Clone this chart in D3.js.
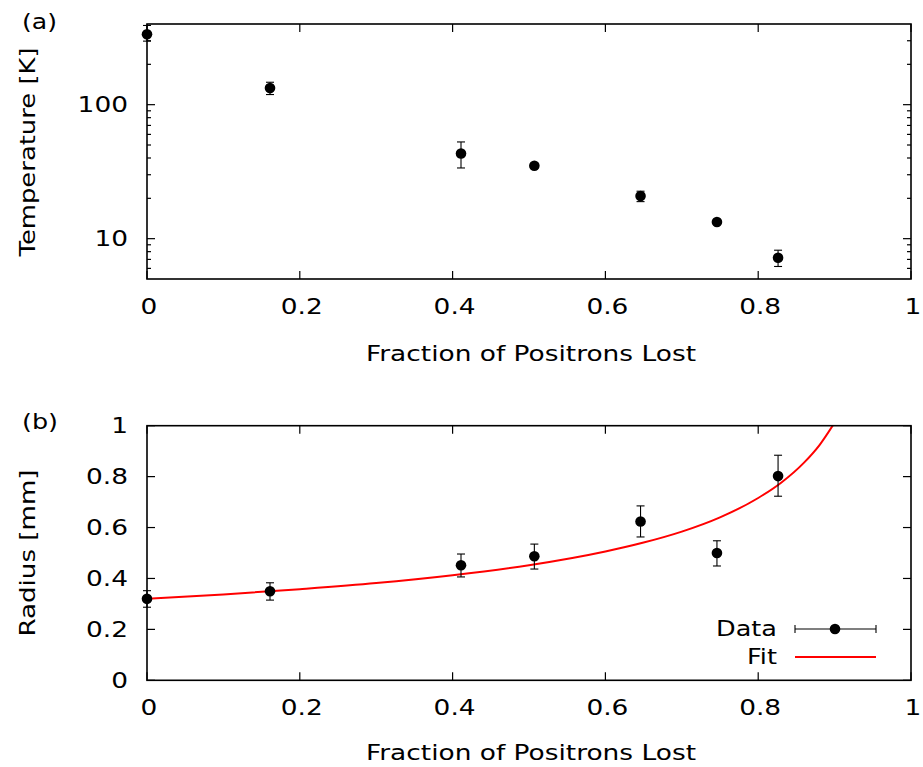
<!DOCTYPE html>
<html><head><meta charset="utf-8">
<script src="https://cdn.jsdelivr.net/npm/d3@7"></script>
<style>
body{margin:0;background:#fff;}
text{font-family:"DejaVu Sans",sans-serif;fill:#000;}
</style></head>
<body>
<svg id="c" width="923" height="767"></svg>
<script>
// ---- Data ----
const fraction = [0.0, 0.161, 0.411, 0.507, 0.646, 0.746, 0.826];
const temperature = [335, 133, 43.2, 35.0, 20.8, 13.3, 7.2];
const tempLow = [298, 119, 33.7, 33.6, 18.9, 12.8, 6.2];
const tempHigh = [390, 147, 52.7, 36.5, 22.6, 13.8, 8.2];
const radius = [0.32, 0.35, 0.452, 0.487, 0.624, 0.5, 0.802];
const radiusLow = [0.287, 0.315, 0.406, 0.437, 0.563, 0.449, 0.723];
const radiusHigh = [0.352, 0.383, 0.496, 0.535, 0.685, 0.548, 0.884];
const fitFraction = [0, 0.1, 0.2, 0.3, 0.4, 0.5, 0.6, 0.65, 0.7, 0.75, 0.8, 0.83, 0.86, 0.88, 0.9];
const fitRadius = [0.32, 0.337, 0.358, 0.382, 0.413, 0.452, 0.506, 0.541, 0.584, 0.64, 0.716, 0.776, 0.855, 0.923, 1.012];
const xTicks = [0, 0.2, 0.4, 0.6, 0.8, 1];
const xTickLabels = ["0", "0.2", "0.4", "0.6", "0.8", "1"];
const tMajor = [10, 100];
const tMajorLabels = ["10", "100"];
const tMinor = [6, 7, 8, 9, 20, 30, 40, 50, 60, 70, 80, 90, 200, 300];
const rTicks = [0, 0.2, 0.4, 0.6, 0.8, 1];
const rTickLabels = ["0", "0.2", "0.4", "0.6", "0.8", "1"];

const svg = d3.select("#c");
const L = 147, R = 911;
const x = d3.scaleLinear().domain([0, 1]).range([L, R]);
const yT = d3.scaleLog().domain([5, 400]).range([279, 24]);
const yR = d3.scaleLinear().domain([0, 1]).range([680.3, 425.7]);
const FS = 22;
const WIDEN = 1.2;

function widen(sel, len) {
  const n = sel.node();
  const w = len || n.getComputedTextLength() * WIDEN;
  sel.attr("textLength", w).attr("lengthAdjust", "spacingAndGlyphs");
  return sel;
}
function frame(y0, y1) {
  svg.append("rect").attr("x", L).attr("y", y0).attr("width", R - L).attr("height", y1 - y0)
    .attr("fill", "none").attr("stroke", "#000").attr("stroke-width", 1.6);
}
function xAxis(y0, y1, labelY, titleY) {
  const g = svg.append("g");
  xTicks.forEach((t, i) => {
    g.append("line").attr("x1", x(t)).attr("x2", x(t)).attr("y1", y1).attr("y2", y1 - 8).attr("stroke", "#000").attr("stroke-width", 1.2);
    g.append("line").attr("x1", x(t)).attr("x2", x(t)).attr("y1", y0).attr("y2", y0 + 8).attr("stroke", "#000").attr("stroke-width", 1.2);
    widen(g.append("text").attr("x", x(t) + 2).attr("y", labelY).attr("text-anchor", "middle")
      .attr("dominant-baseline", "central").attr("font-size", FS).text(xTickLabels[i]));
  });
  widen(g.append("text").attr("x", (L + R) / 2 + 2).attr("y", titleY).attr("text-anchor", "middle")
    .attr("dominant-baseline", "central").attr("font-size", FS).text("Fraction of Positrons Lost"), 330);
}
function yTick(g, yy, len) {
  g.append("line").attr("x1", L).attr("x2", L + len).attr("y1", yy).attr("y2", yy).attr("stroke", "#000").attr("stroke-width", 1.2);
  g.append("line").attr("x1", R).attr("x2", R - len).attr("y1", yy).attr("y2", yy).attr("stroke", "#000").attr("stroke-width", 1.2);
}
function errPoints(g, xs, ys, lo, hi, yscale) {
  xs.forEach((f, i) => {
    const cx = x(f);
    g.append("line").attr("x1", cx).attr("x2", cx).attr("y1", yscale(lo[i])).attr("y2", yscale(hi[i])).attr("stroke", "#000").attr("stroke-width", 1.1);
    [lo[i], hi[i]].forEach(v => {
      g.append("line").attr("x1", cx - 4).attr("x2", cx + 4).attr("y1", yscale(v)).attr("y2", yscale(v)).attr("stroke", "#000").attr("stroke-width", 1.1);
    });
    g.append("circle").attr("cx", cx).attr("cy", yscale(ys[i])).attr("r", 5.3).attr("fill", "#000");
  });
}

// ---- Panel (a) ----
const ga = svg.append("g");
tMinor.forEach(t => yTick(ga, yT(t), 4));
tMajor.forEach((t, i) => {
  yTick(ga, yT(t), 8);
  widen(ga.append("text").attr("x", 128).attr("y", yT(t)).attr("text-anchor", "end")
    .attr("dominant-baseline", "central").attr("font-size", FS).text(tMajorLabels[i]));
});
frame(24, 279);
xAxis(24, 279, 306, 353);
errPoints(ga, fraction, temperature, tempLow, tempHigh, yT);
widen(svg.append("text").attr("transform", "translate(27,152) rotate(-90)").attr("text-anchor", "middle")
  .attr("dominant-baseline", "central").attr("font-size", FS).text("Temperature [K]"), 209);
widen(svg.append("text").attr("x", 22).attr("y", 21).attr("dominant-baseline", "central").attr("font-size", FS).text("(a)"), 35);

// ---- Panel (b) ----
const gb = svg.append("g");
rTicks.forEach((t, i) => {
  yTick(gb, yR(t), 8);
  widen(gb.append("text").attr("x", 128).attr("y", yR(t)).attr("text-anchor", "end")
    .attr("dominant-baseline", "central").attr("font-size", FS).text(rTickLabels[i]));
});
svg.append("defs").append("clipPath").attr("id", "clipb").append("rect")
  .attr("x", L).attr("y", 425.7).attr("width", R - L).attr("height", 680.3 - 425.7);
const line = d3.line().x((d, i) => x(fitFraction[i])).y(d => yR(d)).curve(d3.curveMonotoneX);
gb.append("path").datum(fitRadius).attr("d", line).attr("fill", "none").attr("stroke", "#ff0000")
  .attr("stroke-width", 2).attr("clip-path", "url(#clipb)");
errPoints(gb, fraction, radius, radiusLow, radiusHigh, yR);
frame(425.7, 680.3);
xAxis(425.7, 680.3, 707, 752);
widen(svg.append("text").attr("transform", "translate(27,553) rotate(-90)").attr("text-anchor", "middle")
  .attr("dominant-baseline", "central").attr("font-size", FS).text("Radius [mm]"), 167);
widen(svg.append("text").attr("x", 22).attr("y", 421).attr("dominant-baseline", "central").attr("font-size", FS).text("(b)"), 36);

// Legend
const lg = svg.append("g");
widen(lg.append("text").attr("x", 777).attr("y", 628).attr("text-anchor", "end").attr("dominant-baseline", "central").attr("font-size", FS).text("Data"), 61);
lg.append("line").attr("x1", 795).attr("x2", 876).attr("y1", 629).attr("y2", 629).attr("stroke", "#000").attr("stroke-width", 1.1);
[795, 876].forEach(xx => lg.append("line").attr("x1", xx).attr("x2", xx).attr("y1", 625).attr("y2", 633).attr("stroke", "#000").attr("stroke-width", 1.1));
lg.append("circle").attr("cx", 835).attr("cy", 629).attr("r", 5.3).attr("fill", "#000");
widen(lg.append("text").attr("x", 777).attr("y", 656).attr("text-anchor", "end").attr("dominant-baseline", "central").attr("font-size", FS).text("Fit"), 30);
lg.append("line").attr("x1", 795).attr("x2", 876).attr("y1", 657).attr("y2", 657).attr("stroke", "#ff0000").attr("stroke-width", 2);
</script>
</body></html>
